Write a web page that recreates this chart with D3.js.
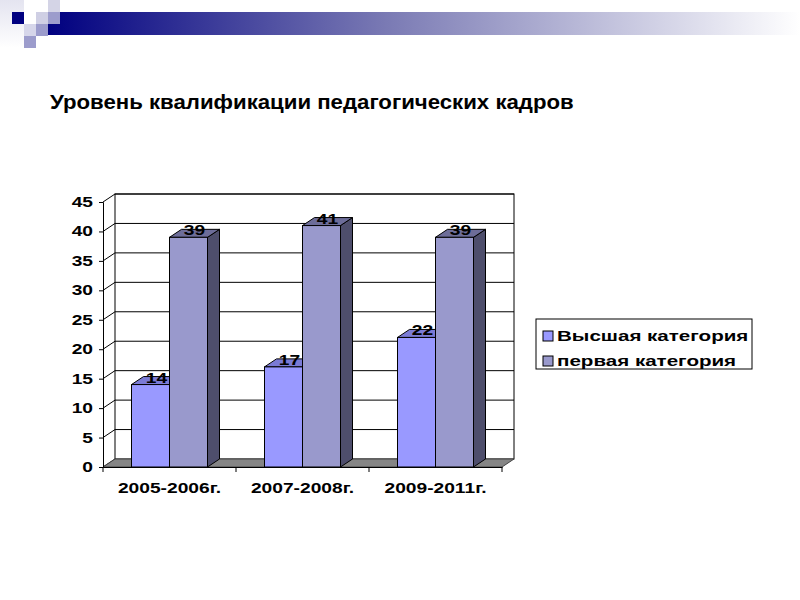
<!DOCTYPE html>
<html>
<head>
<meta charset="utf-8">
<script src="https://cdn.jsdelivr.net/npm/d3@7"></script>
<style>
  html, body { margin: 0; padding: 0; background: #fff; }
  svg { display: block; font-family: "Liberation Sans", Arial, sans-serif; }
</style>
</head>
<body>
<div id="host"></div>
<script>
const title = 'Уровень квалификации педагогических кадров';
const categories = ['2005-2006г.', '2007-2008г.', '2009-2011г.'];
const seriesNames = ['Высшая категория', 'первая категория'];
const highest = [14, 17, 22];
const first = [39, 41, 39];
const yTicks = [0, 5, 10, 15, 20, 25, 30, 35, 40, 45];

const width = 800;
const height = 600;
const depth = { dx: 12, dy: -8 };
// the chart text in the slide is stretched sideways
const chartStretch = 1.37;
const titleStretch = 1.11;

const colors = [
  { front: '#9999ff', top: '#7b7bd6', side: '#5c5ca8' },
  { front: '#9999cc', top: '#6d6d99', side: '#4e4e6c' },
];

function stretch(sel, k) {
  sel.each(function () {
    const w = this.getComputedTextLength();
    d3.select(this).attr('textLength', w * k).attr('lengthAdjust', 'spacingAndGlyphs');
  });
}

const svg = d3.select('#host')
  .append('svg')
  .attr('width', width)
  .attr('height', height);

// slide header: gradient band + little squares
const defs = svg.append('defs');
const grad = defs.append('linearGradient').attr('id', 'band');
grad.append('stop').attr('offset', '0%').attr('stop-color', '#000080');
grad.append('stop').attr('offset', '45%').attr('stop-color', '#7a7ab4');
grad.append('stop').attr('offset', '100%').attr('stop-color', '#ffffff');
const fade = defs.append('linearGradient').attr('id', 'fade').attr('x1', 0).attr('x2', 0).attr('y1', 0).attr('y2', 1);
fade.append('stop').attr('offset', '0%').attr('stop-color', '#e4e4f0');
fade.append('stop').attr('offset', '100%').attr('stop-color', '#ffffff');

svg.append('rect').attr('x', 0).attr('y', 0).attr('width', 24).attr('height', 48).attr('fill', 'url(#fade)');
svg.append('rect').attr('x', 48).attr('y', 12).attr('width', 752).attr('height', 23).attr('fill', 'url(#band)');
const squares = [
  [48, 0, '#d4d4e6'], [12, 12, '#000080'], [36, 12, '#cfcfe4'], [48, 12, '#9c9ccc'],
  [24, 24, '#d6d6ea'], [36, 24, '#9c9ccc'], [24, 36, '#9c9ccc'],
];
svg.selectAll('rect.sq')
  .data(squares)
  .join('rect')
  .attr('class', 'sq')
  .attr('x', (d) => d[0])
  .attr('y', (d) => d[1])
  .attr('width', 12)
  .attr('height', 12)
  .attr('fill', (d) => d[2]);

svg.append('text')
  .attr('x', 50)
  .attr('y', 109)
  .attr('font-size', 20)
  .attr('font-weight', 'bold')
  .attr('fill', '#000')
  .text(title)
  .call(stretch, titleStretch);

// scales
const x = d3.scaleBand().domain(categories).range([103, 502]);
const inner = d3.scaleBand().domain(seriesNames).range([0, x.bandwidth()]).paddingOuter(0.75);
const y = d3.scaleLinear().domain([0, 45]).range([467, 202]);

const x0 = x.range()[0];
const x1 = x.range()[1];
const y0 = y(0);
const yTop = y(45);

// back wall
svg.append('rect')
  .attr('x', x0 + depth.dx)
  .attr('y', yTop + depth.dy)
  .attr('width', x1 - x0)
  .attr('height', y0 - yTop)
  .attr('fill', '#fff')
  .attr('stroke', '#000');

// gridlines on back wall + side wall diagonals
svg.selectAll('line.grid')
  .data(yTicks.filter((v) => v > 0))
  .join('line')
  .attr('class', 'grid')
  .attr('x1', x0 + depth.dx)
  .attr('x2', x1 + depth.dx)
  .attr('y1', (v) => y(v) + depth.dy)
  .attr('y2', (v) => y(v) + depth.dy)
  .attr('stroke', '#000');

svg.selectAll('line.diag')
  .data(yTicks)
  .join('line')
  .attr('class', 'diag')
  .attr('x1', x0)
  .attr('x2', x0 + depth.dx)
  .attr('y1', (v) => y(v))
  .attr('y2', (v) => y(v) + depth.dy)
  .attr('stroke', '#000');

// floor
svg.append('path')
  .attr('d', `M${x0},${y0}L${x1},${y0}L${x1 + depth.dx},${y0 + depth.dy}L${x0 + depth.dx},${y0 + depth.dy}Z`)
  .attr('fill', '#858585')
  .attr('stroke', '#444');

// y axis
const yAxis = svg.append('g')
  .attr('transform', `translate(${x0},0)`)
  .call(d3.axisLeft(y).tickValues(yTicks).tickSize(4).tickPadding(6));
yAxis.select('.domain').attr('stroke', '#000');
yAxis.selectAll('.tick line').attr('stroke', '#000');
yAxis.selectAll('text')
  .attr('font-size', 14)
  .attr('font-weight', 'bold')
  .attr('font-family', '"Liberation Sans", Arial, sans-serif')
  .attr('fill', '#000')
  .call(stretch, chartStretch);

// x axis
const xAxis = svg.append('g')
  .attr('transform', `translate(0,${y0})`)
  .call(d3.axisBottom(x).tickSize(0).tickPadding(16));
xAxis.select('.domain').attr('stroke', '#000');
xAxis.selectAll('text')
  .attr('font-size', 14)
  .attr('font-weight', 'bold')
  .attr('font-family', '"Liberation Sans", Arial, sans-serif')
  .attr('fill', '#000')
  .call(stretch, chartStretch);
svg.selectAll('line.xtick')
  .data(d3.range(categories.length + 1))
  .join('line')
  .attr('class', 'xtick')
  .attr('x1', (i) => x0 + i * x.step())
  .attr('x2', (i) => x0 + i * x.step())
  .attr('y1', y0)
  .attr('y2', y0 + 5)
  .attr('stroke', '#000');

// 3d bars
const bars = [];
categories.forEach((c, i) => {
  [highest[i], first[i]].forEach((v, s) => {
    bars.push({ cat: c, series: seriesNames[s], s, value: v });
  });
});

const barG = svg.selectAll('g.bar')
  .data(bars)
  .join('g')
  .attr('class', 'bar');

barG.each(function (d) {
  const g = d3.select(this);
  const bx = x(d.cat) + inner(d.series);
  const bw = inner.bandwidth();
  const by = y(d.value);
  const { dx, dy } = depth;
  const c = colors[d.s];
  // side
  g.append('path')
    .attr('d', `M${bx + bw},${by}L${bx + bw + dx},${by + dy}L${bx + bw + dx},${y0 + dy}L${bx + bw},${y0}Z`)
    .attr('fill', c.side)
    .attr('stroke', '#000');
  // top
  g.append('path')
    .attr('d', `M${bx},${by}L${bx + dx},${by + dy}L${bx + bw + dx},${by + dy}L${bx + bw},${by}Z`)
    .attr('fill', c.top)
    .attr('stroke', '#000');
  // front
  g.append('rect')
    .attr('x', bx)
    .attr('y', by)
    .attr('width', bw)
    .attr('height', y0 - by)
    .attr('fill', c.front)
    .attr('stroke', '#000');
});

// value labels
svg.selectAll('text.val')
  .data(bars)
  .join('text')
  .attr('class', 'val')
  .attr('x', (d) => x(d.cat) + inner(d.series) + inner.bandwidth() / 2 + depth.dx / 2)
  .attr('y', (d) => y(d.value) - 2)
  .attr('text-anchor', 'middle')
  .attr('font-size', 14)
  .attr('font-weight', 'bold')
  .attr('fill', '#000')
  .text((d) => d.value)
  .call(stretch, chartStretch);

// legend
const legend = svg.append('g').attr('transform', 'translate(536,319)');
legend.append('rect')
  .attr('width', 216)
  .attr('height', 50)
  .attr('fill', '#fff')
  .attr('stroke', '#000');
const item = legend.selectAll('g.item')
  .data(seriesNames)
  .join('g')
  .attr('class', 'item')
  .attr('transform', (d, i) => `translate(7,${12 + i * 25})`);
item.append('rect')
  .attr('width', 10)
  .attr('height', 10)
  .attr('fill', (d, i) => colors[i].front)
  .attr('stroke', '#000');
item.append('text')
  .attr('x', 14)
  .attr('y', 10)
  .attr('font-size', 15)
  .attr('font-weight', 'bold')
  .attr('fill', '#000')
  .text((d) => d)
  .call(stretch, chartStretch);
</script>
</body>
</html>
